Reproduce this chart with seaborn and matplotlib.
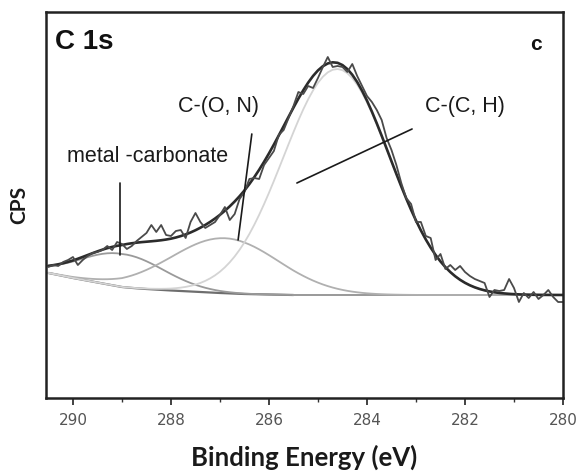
import numpy as np
import pandas as pd
import matplotlib
matplotlib.use("Agg")
import matplotlib.pyplot as plt
from matplotlib.ticker import MultipleLocator
import seaborn as sns

# C 1s spectrum, binding energy grid (eV), 0.1 eV steps from 290.5 down to 280.0
energy = np.round(np.arange(290.5, 279.95, -0.1), 1)

# measured counts
cps = [
    2620, 2660, 2640, 2720, 2760, 2820, 2660, 2760, 2840, 2900,
    2920, 2960, 3040, 2960, 3120, 3080, 2980, 3040, 3140, 3220,
    3300, 3460, 3320, 3460, 3260, 3240, 3340, 3360, 3200, 3520,
    3700, 3520, 3400, 3460, 3520, 3660, 3820, 3560, 3680, 3980,
    4120, 4380, 4400, 4380, 4660, 4800, 4940, 5260, 5360, 5600,
    5840, 6120, 6080, 6240, 6200, 6400, 6620, 6820, 6620, 6640,
    6620, 6520, 6680, 6440, 6240, 6040, 5920, 5760, 5560, 5200,
    4960, 4660, 4300, 4000, 3880, 3520, 3520, 3240, 3200, 2760,
    2880, 2580, 2660, 2560, 2640, 2520, 2440, 2380, 2340, 2300,
    2020, 2160, 2140, 2160, 2380, 2200, 1920, 2100, 2000, 2120,
    1980, 2060, 2160, 2020, 1920, 1920,
]

# background under the peaks, 290.5 -> 285.5 eV, then flat
background_high = [
    2500, 2480, 2460, 2440, 2420, 2400, 2382, 2364, 2346, 2328,
    2310, 2292, 2274, 2256, 2238, 2220, 2211, 2202, 2194, 2187,
    2180, 2174, 2168, 2162, 2156, 2150, 2145, 2140, 2135, 2130,
    2125, 2120, 2115, 2110, 2105, 2100, 2096, 2092, 2088, 2084,
    2080, 2078, 2076, 2074, 2072, 2070, 2068, 2066, 2064, 2062,
    2060,
]
background_floor = 2060

# fitted components: name, centre (eV), height (CPS), sigma on the high-BE side, sigma on the low-BE side
component_names = ["metal -carbonate", "C-(O, N)", "C-(C, H)"]
component_centres = [289.0, 286.9, 284.61]
component_heights = [660, 1100, 4520]
component_sigma_high = [0.85, 1.1, 1.1]
component_sigma_low = [0.85, 1.1, 1.08]
component_colors = ["#9a9a9a", "#b0b0b0", "#d4d4d4"]

# label positions (eV, CPS) and leader lines for each component
label_pos = [(288.47, 4840), (287.04, 5840), (282.0, 5840)]
leader_e = [(289.04, 289.04), (286.35, 286.63), (285.43, 283.08)]
leader_cps = [(2860, 4300), (5280, 3160), (4300, 5380)]

background = np.full(energy.size, float(background_floor))
background[: len(background_high)] = background_high


def peak(e, centre, height, s_high, s_low):
    sigma = np.where(e >= centre, s_high, s_low)
    return height * np.exp(-((e - centre) ** 2) / (2 * sigma ** 2))


components = [
    peak(energy, c, h, sh, sl)
    for c, h, sh, sl in zip(component_centres, component_heights,
                            component_sigma_high, component_sigma_low)
]
envelope = background + np.sum(components, axis=0)

df = pd.DataFrame({"energy": energy, "cps": cps, "envelope": envelope,
                   "background": background})

sns.set_theme(style="white")
plt.rcParams["font.family"] = ["Liberation Sans", "DejaVu Sans"]

fig = plt.figure(figsize=(5.76, 4.73), dpi=100)
ax = fig.add_axes([46 / 576, 1 - 398 / 473, 517 / 576, 386 / 473])

# background
ax.plot(energy[energy >= 285.5], background[energy >= 285.5], color="#6e6e6e", lw=1.6)
ax.plot(energy[energy <= 285.5], background[energy <= 285.5], color="#a8a8a8", lw=1.4)

# component curves sitting on the background
for comp, col in zip(components, component_colors):
    ax.plot(energy, background + comp, color=col, lw=1.3)

sns.lineplot(data=df, x="energy", y="envelope", ax=ax, color="#2b2b2b", lw=1.9)
sns.lineplot(data=df, x="energy", y="cps", ax=ax, color="#4a4a4a", lw=1.3)

for name, (lx, ly), le, lc in zip(component_names, label_pos, leader_e, leader_cps):
    ax.plot(le, lc, color="#1a1a1a", lw=1.2)
    ax.text(lx, ly, name, fontsize=15.5, ha="center", va="center", color="#1a1a1a")

ax.text(0.018, 0.922, "C 1s", transform=ax.transAxes, fontsize=20, fontweight="bold",
        ha="left", va="center", color="#111111")
ax.text(0.947, 0.915, "c", transform=ax.transAxes, fontsize=15, fontweight="bold",
        ha="center", va="center", color="#111111")

ax.set_xlim(290.55, 280.0)
ax.set_ylim(0, 7720)
ax.xaxis.set_major_locator(MultipleLocator(2))
ax.xaxis.set_minor_locator(MultipleLocator(1))
ax.set_yticks([])
ax.tick_params(axis="x", which="major", direction="out", length=5, width=1.3,
               color="#333333", pad=6, labelsize=11, labelcolor="#555555",
               bottom=True)
ax.tick_params(axis="x", which="minor", direction="out", length=3, width=1.0,
               color="#333333", bottom=True)
for lab in ax.get_xticklabels():
    lab.set_family(["Liberation Sans Narrow", "DejaVu Sans"])

for side in ["left", "right", "top", "bottom"]:
    ax.spines[side].set_visible(True)
    ax.spines[side].set_color("#222222")
    ax.spines[side].set_linewidth(1.8)

ax.set_xlabel("Binding Energy (eV)", fontsize=18.5, fontweight="bold",
              family=["Lato", "DejaVu Sans"], color="#1a1a1a")
ax.xaxis.set_label_coords(0.5, -0.12)
ax.set_ylabel("CPS", fontsize=15, fontweight="bold",
              family=["Lato", "DejaVu Sans"], color="#1a1a1a")
ax.yaxis.set_label_coords(-0.033, 0.5)

fig.savefig("out.png", dpi=100)
